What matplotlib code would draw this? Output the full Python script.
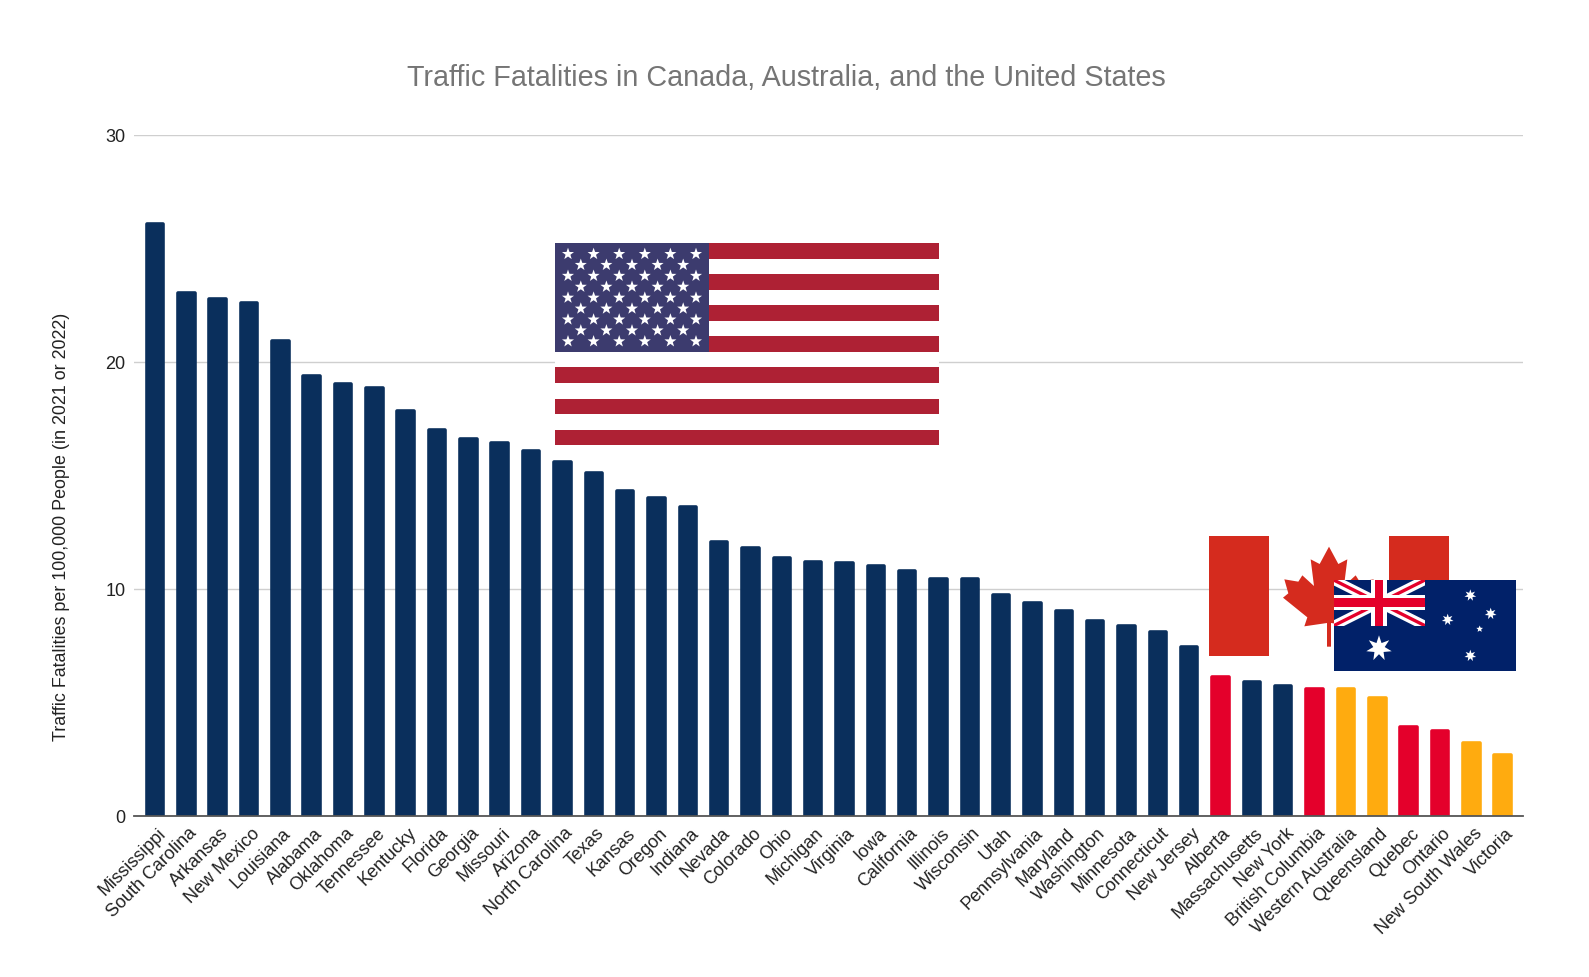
import numpy as np
import matplotlib
matplotlib.use("Agg")
import matplotlib.pyplot as plt
from matplotlib.patches import Rectangle, Polygon
from matplotlib.transforms import ScaledTranslation

plt.rcParams['font.family'] = ['Liberation Sans', 'DejaVu Sans']

states = ["Mississippi", "South Carolina", "Arkansas", "New Mexico", "Louisiana", "Alabama",
          "Oklahoma", "Tennessee", "Kentucky", "Florida", "Georgia", "Missouri", "Arizona",
          "North Carolina", "Texas", "Kansas", "Oregon", "Indiana", "Nevada", "Colorado",
          "Ohio", "Michigan", "Virginia", "Iowa", "California", "Illinois", "Wisconsin",
          "Utah", "Pennsylvania", "Maryland", "Washington", "Minnesota", "Connecticut",
          "New Jersey", "Alberta", "Massachusetts", "New York", "British Columbia",
          "Western Australia", "Queensland", "Quebec", "Ontario", "New South Wales", "Victoria"]
fatalities = [26.16, 23.1, 22.86, 22.66, 21.0, 19.47, 19.1, 18.95, 17.9, 17.06, 16.7, 16.5, 16.17,
              15.66, 15.2, 14.4, 14.07, 13.7, 12.15, 11.9, 11.46, 11.27, 11.2, 11.07, 10.88,
              10.5, 10.5, 9.8, 9.48, 9.1, 8.67, 8.45, 8.2, 7.5, 6.18, 5.98, 5.78, 5.66,
              5.67, 5.28, 4.0, 3.8, 3.3, 2.78]
countries = ["US"] * 34 + ["CA", "US", "US", "CA", "AU", "AU", "CA", "CA", "AU", "AU"]
palette = {"US": "#0A2F5C", "CA": "#E4002B", "AU": "#FFAB0F"}
y_ticks = [0, 10, 20, 30]

W, H = 1589, 978
fig = plt.figure(figsize=(W / 100, H / 100), dpi=100, facecolor="white")
L, R, T, B = 134, 1523, 135.7, 816.7
ax = fig.add_axes([L / W, 1 - B / H, (R - L) / W, (B - T) / H])

x = np.arange(len(states))
shift = ScaledTranslation(0, -2 / 100, fig.dpi_scale_trans)
bars = ax.bar(x, fatalities, width=16.5 / 31.34,
              color=[palette[c] for c in countries],
              edgecolor=[palette[c] for c in countries],
              linewidth=2.6, joinstyle="round", zorder=3)
for b in bars:
    b.set_transform(ax.transData + shift)

ax.set_xlim(-0.67, 43.65)
ax.set_ylim(0, 30)
ax.set_yticks(y_ticks)
ax.set_xticks(x)
ax.set_xticklabels(states, rotation=45, ha="right", va="top", rotation_mode="anchor",
                   fontsize=13, color="#222222")
ax.tick_params(axis="x", length=0, pad=6)
ax.tick_params(axis="y", length=0, pad=6, labelsize=13, labelcolor="#222222")
label_shift = ScaledTranslation(2 / 100, 0, fig.dpi_scale_trans)
for lab in ax.get_xticklabels():
    lab.set_transform(lab.get_transform() + label_shift)
ax.grid(axis="y", color="#CFCFCF", linewidth=1.0, zorder=0)
ax.set_axisbelow(True)
for s in ["top", "right", "left"]:
    ax.spines[s].set_visible(False)
ax.spines["bottom"].set_color("#555555")
ax.spines["bottom"].set_linewidth(1.3)
ax.spines["bottom"].set_zorder(5)

fig.text(786 / W, 1 - 78 / H, "Traffic Fatalities in Canada, Australia, and the United States",
         ha="center", va="center", fontsize=20.7, color="#757575")
fig.text(61 / W, 1 - 527 / H, "Traffic Fatalities per 100,000 People (in 2021 or 2022)",
         rotation=90, ha="center", va="center", fontsize=12.9, color="#222222")

# Decorative flags, drawn in an overlay using pixel coordinates
ov = fig.add_axes([0, 0, 1, 1], facecolor="none")
ov.set_xlim(0, W)
ov.set_ylim(H - 1, -1)
ov.axis("off")


def rect(x0, y0, x1, y1, c, z=10):
    r = Rectangle((x0, y0), x1 - x0, y1 - y0, facecolor=c, edgecolor="none", zorder=z)
    ov.add_patch(r)
    return r


def star(cx, cy, r, n, c="white", inner=0.45, z=14):
    a = -np.pi / 2 + np.arange(2 * n) * np.pi / n
    rad = np.where(np.arange(2 * n) % 2 == 0, r, r * inner)
    ov.add_patch(Polygon(np.c_[cx + rad * np.cos(a), cy + rad * np.sin(a)],
                         closed=True, facecolor=c, edgecolor="none", zorder=z))


# United States flag
ux0, ux1, uy0, uy1 = 555, 939, 243, 445.3
sh = (uy1 - uy0) / 13
rect(ux0, uy0, ux1, uy1, "white")
for i in range(0, 13, 2):
    rect(ux0, uy0 + i * sh, ux1, uy0 + (i + 1) * sh, "#AE2134", 11)
rect(ux0, uy0, 708.5, uy0 + 7 * sh, "#3C3B6E", 12)
for row in range(9):
    cols = 6 if row % 2 == 0 else 5
    for col in range(cols):
        sx = 568 + 25.6 * col + (12.8 if row % 2 else 0)
        sy = 254 + 10.92 * row
        star(sx, sy, 6.3, 5, inner=0.4)

# Canada flag
rect(1209, 536, 1269, 656, "#D52B1E", 20)
rect(1389, 536, 1449, 656, "#D52B1E", 20)
half = [(477, 110), (449, 162), (422, 148), (432, 228), (397, 196), (385, 215), (343, 208),
        (355, 250), (339, 263), (412, 322), (403, 349), (471, 339), (471, 410), (477, 410)]
left = [(1170 + a / 3, 510 + b / 3) for a, b in half]
right = [(1170 + (954 - a) / 3, 510 + b / 3) for a, b in half[::-1]]
ov.add_patch(Polygon(left + right, closed=True, facecolor="#D52B1E", edgecolor="none", zorder=20))

# Australia flag
ax0, ax1, ay0, ay1 = 1333.7, 1516.3, 580, 671.3
cx1, cy1 = 1425, 625.7
rect(ax0, ay0, ax1, ay1, "#012169", 30)
clip = Rectangle((ax0, ay0), cx1 - ax0, cy1 - ay0, transform=ov.transData)
for (p, q) in [((ax0, ay0), (cx1, cy1)), ((ax0, cy1), (cx1, ay0))]:
    l1, = ov.plot([p[0], q[0]], [p[1], q[1]], color="white", lw=7.0, solid_capstyle="butt", zorder=31)
    l2, = ov.plot([p[0], q[0]], [p[1], q[1]], color="#E4002B", lw=2.4, solid_capstyle="butt", zorder=32)
    l1.set_clip_path(clip)
    l2.set_clip_path(clip)
mx, my = (ax0 + cx1) / 2, (ay0 + cy1) / 2
rect(mx - 8, ay0, mx + 8, cy1, "white", 33)
rect(ax0, my - 7.6, cx1, my + 7.6, "white", 33)
rect(mx - 4, ay0, mx + 4, cy1, "#E4002B", 34)
rect(ax0, my - 4.5, cx1, my + 4.5, "#E4002B", 34)
for (a, b, r, n) in [(627, 415, 13, 7), (901, 256, 6, 7), (962, 311, 6, 7), (833, 329, 6, 7),
                     (901, 437, 6, 7), (929, 357, 3.5, 5)]:
    star(1170 + a / 3, 510 + b / 3, r, n, z=35)

fig.savefig("out.png", dpi=100, facecolor="white")
